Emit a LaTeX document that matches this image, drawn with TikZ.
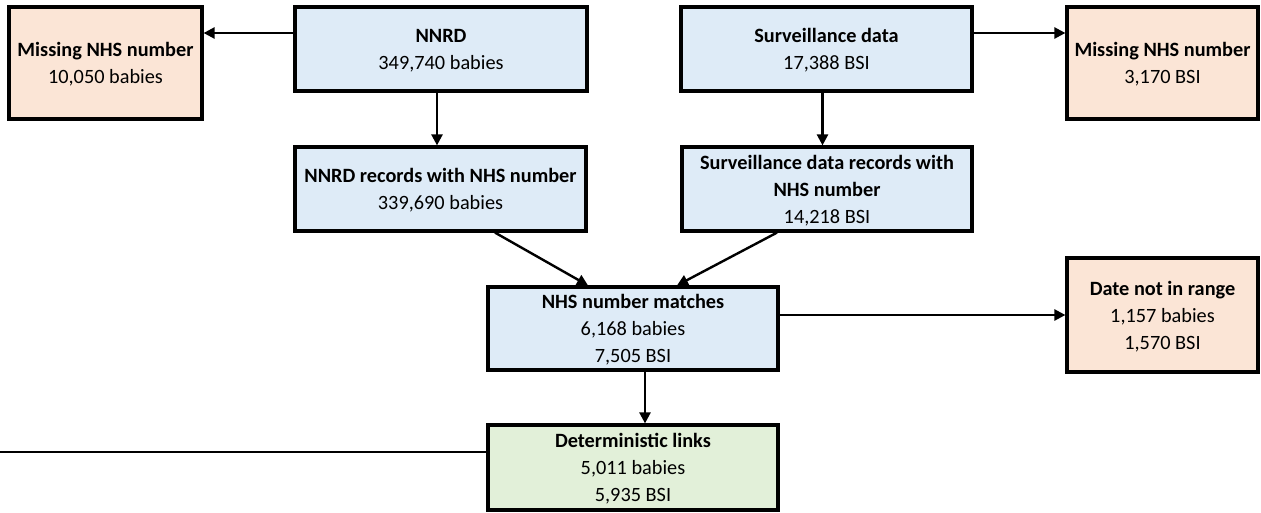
\documentclass[tikz,border=0pt]{standalone}
\usepackage{fontspec}
\setmainfont{Carlito}
\usetikzlibrary{arrows.meta}
\definecolor{boxblue}{HTML}{DEEBF7}
\definecolor{boxpeach}{HTML}{FBE5D6}
\definecolor{boxgreen}{HTML}{E2F0D9}
\tikzset{
  box/.style={draw=black, line width=3.2pt, inner sep=0pt, align=center,
    font=\fontsize{20.3}{27}\selectfont, text depth=0pt},
  bluebox/.style={box, fill=boxblue},
  peachbox/.style={box, fill=boxpeach},
  greenbox/.style={box, fill=boxgreen},
  arr/.style={line width=2.4pt, -{Triangle[length=11pt,width=11pt]}},
  plain/.style={line width=2.4pt}
}
\begin{document}
\begin{tikzpicture}[x=1pt,y=-1pt]
\useasboundingbox (0,0) rectangle (1261,512);
% top row
\node[peachbox, minimum width=193pt, minimum height=112pt] (missl) at (105.5,63) {\textbf{Missing NHS number}\\10,050 babies};
\node[bluebox, minimum width=292pt, minimum height=84pt] (nnrd) at (441,49) {\textbf{NNRD}\\349,740 babies};
\node[bluebox, minimum width=291pt, minimum height=84pt] (surv) at (826.5,49) {\textbf{Surveillance data}\\17,388 BSI};
\node[peachbox, minimum width=191pt, minimum height=112pt] (missr) at (1162.5,63) {\textbf{Missing NHS number}\\3,170 BSI};
% second row
\node[bluebox, minimum width=291pt, minimum height=84pt] (nnrdrec) at (440.5,189) {\textbf{NNRD records with NHS number}\\339,690 babies};
\node[bluebox, minimum width=290pt, minimum height=84pt] (survrec) at (827,189) {\textbf{Surveillance data records with}\\\textbf{NHS number}\\14,218 BSI};
% third row
\node[bluebox, minimum width=290pt, minimum height=83pt] (match) at (633,328.5) {\textbf{NHS number matches}\\6,168 babies\\7,505 BSI};
\node[peachbox, minimum width=191pt, minimum height=114pt] (date) at (1162.5,315) {\textbf{Date not in range}\\1,157 babies\\1,570 BSI};
% bottom
\node[greenbox, minimum width=290pt, minimum height=85pt] (det) at (633,467.5) {\textbf{Deterministic links}\\5,011 babies\\5,935 BSI};
% connectors
\coordinate (a1) at ([yshift=16pt]nnrd.west);
\draw[arr] (a1) -- (a1 -| missl.east);
\coordinate (a2) at ([yshift=16pt]surv.east);
\draw[arr] (a2) -- (a2 -| missr.west);
\coordinate (a3) at ([xshift=-4pt]nnrd.south);
\draw[arr] (a3) -- (a3 |- nnrdrec.north);
\coordinate (a4) at ([xshift=-4pt]surv.south);
\draw[arr] (a4) -- (a4 |- survrec.north);
\draw[arr] ([xshift=54.5pt]nnrdrec.south) -- ([xshift=-45pt]match.north);
\draw[arr] ([xshift=-50pt]survrec.south) -- ([xshift=44pt]match.north);
\draw[arr] (date.west -| match.east) -- (date.west);
\coordinate (a5) at ([xshift=12pt]match.south);
\draw[arr] (a5) -- (a5 |- det.north);
\coordinate (lend) at (0,452);
\draw[plain] (lend) -- (lend -| det.west);
\end{tikzpicture}
\end{document}
